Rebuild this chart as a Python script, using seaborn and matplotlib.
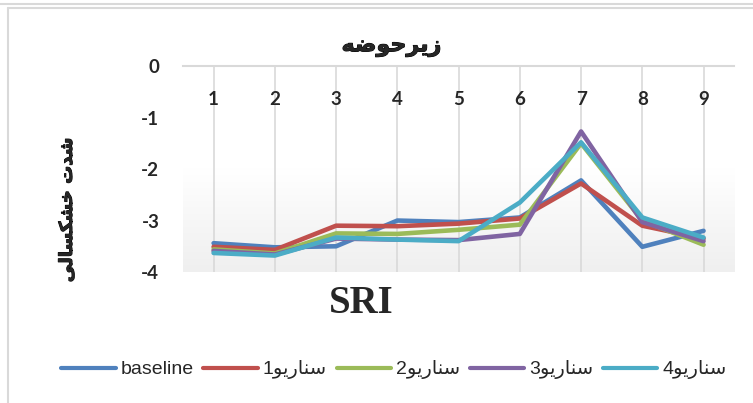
import numpy as np
import pandas as pd
import matplotlib
matplotlib.use("Agg")
import matplotlib.pyplot as plt
import matplotlib.patheffects as pe
import seaborn as sns
from matplotlib.colors import LinearSegmentedColormap
from matplotlib.lines import Line2D

# persian text kept already shaped (presentation forms, visual order)
# since matplotlib does not join / reorder right-to-left text
scenario = "\uFEEE\uFBFE\uFEAD\uFE8E\uFEE8\uFEB3"          # سناریو
title_txt = "\uFEEA\uFEBF\uFEEE\uFEA3\uFEAE\uFBFE\uFEAF"    # زیرحوضه
ylabel_txt = "\uFBFD\uFEDF\uFE8E\uFEB4\uFB91\uFEB8\uFEA7 \uFE95\uFEAA\uFEB7"  # شدت خشکسالی

categories = [1, 2, 3, 4, 5, 6, 7, 8, 9]
series_names = ["baseline", "1" + scenario, "2" + scenario, "3" + scenario, "4" + scenario]
baseline = [-3.44, -3.52, -3.50, -3.00, -3.03, -2.94, -2.22, -3.51, -3.20]
scen1 = [-3.51, -3.57, -3.10, -3.11, -3.06, -2.96, -2.28, -3.10, -3.35]
scen2 = [-3.56, -3.64, -3.25, -3.26, -3.18, -3.08, -1.50, -3.00, -3.47]
scen3 = [-3.59, -3.66, -3.35, -3.37, -3.38, -3.26, -1.27, -3.03, -3.40]
scen4 = [-3.63, -3.68, -3.33, -3.37, -3.40, -2.65, -1.48, -2.94, -3.33]
colors = ["#4F81BD", "#C0504D", "#9BBB59", "#8064A2", "#4BACC6"]
y_ticks = [0, -1, -2, -3, -4]

rows = []
for name, vals in zip(series_names, [baseline, scen1, scen2, scen3, scen4]):
    for c, v in zip(categories, vals):
        rows.append({"cat": c, "value": v, "series": name})
df = pd.DataFrame(rows)

sns.set_style("white")
plt.rcParams['font.family'] = ['Liberation Sans', 'DejaVu Sans']

fig = plt.figure(figsize=(7.53, 4.03), dpi=100)
ax = fig.add_axes([0.243, 0.325, 0.732, 0.511])

#gradient plot area
grad = np.linspace(0, 1, 256).reshape(-1, 1)
cmap = LinearSegmentedColormap.from_list("bg", ["#ffffff", "#ffffff", "#efefef"])
ax.imshow(grad, extent=(0.5, 9.5, -4, 0), aspect='auto', cmap=cmap, zorder=0)

sns.lineplot(data=df, x="cat", y="value", hue="series", hue_order=series_names,
             palette=colors, linewidth=3.3, ax=ax, zorder=3)

ax.set_xlim(0.5, 9.5)
ax.set_ylim(-4, 0)
ax.set_xticks(categories)
ax.set_xticklabels([str(c) for c in categories], family='Lato', fontweight='bold', fontsize=13.5)
ax.set_yticks(y_ticks)
ax.set_yticklabels([str(t) for t in y_ticks], family='Lato', fontweight='bold', fontsize=13.5)
ax.xaxis.set_ticks_position('top')
ax.tick_params(axis='x', length=0, pad=-30)
ax.tick_params(axis='y', length=0, pad=17)
ax.grid(axis='x', color='#d9d9d9', linewidth=1.2)
ax.grid(axis='y', visible=False)
ax.set_axisbelow(True)
for s in ['left', 'right', 'bottom']:
    ax.spines[s].set_visible(False)
ax.spines['top'].set_color('#d9d9d9')
ax.spines['top'].set_linewidth(1.5)
ax.set_xlabel("")
ax.set_ylabel("")

handles, labels = ax.get_legend_handles_labels()
ax.get_legend().remove()
leg = fig.legend(handles, labels, loc='center', bbox_to_anchor=(0.523, 0.082), ncol=5,
                 frameon=False, fontsize=14, handlelength=2.8, handletextpad=0.25,
                 columnspacing=0.5)
for h in leg.get_lines():
    h.set_linewidth(3)
    h.set_solid_capstyle('round')

bold = [pe.withStroke(linewidth=0.7, foreground='black')]
fig.text(0.52, 0.883, title_txt, ha='center', va='center', fontsize=16,
         fontweight='bold', family='DejaVu Sans', path_effects=bold)
fig.text(0.089, 0.479, ylabel_txt, ha='center', va='center', rotation=90,
         fontsize=13, fontweight='bold', family='DejaVu Sans', path_effects=bold)
fig.text(0.48, 0.248, "SRI", ha='center', va='center', fontsize=28,
         fontweight='bold', family='Liberation Serif')

#chart frame
fig.add_artist(Line2D([0, 1], [1 - 4 / 403, 1 - 4 / 403], color='#d9d9d9', lw=1.5))
fig.add_artist(Line2D([8 / 753, 8 / 753], [0, 1 - 8 / 403], color='#d9d9d9', lw=1.5))
fig.add_artist(Line2D([8 / 753, 1], [1 - 8 / 403, 1 - 8 / 403], color='#d9d9d9', lw=1.5))

fig.savefig("out.png", dpi=100)
